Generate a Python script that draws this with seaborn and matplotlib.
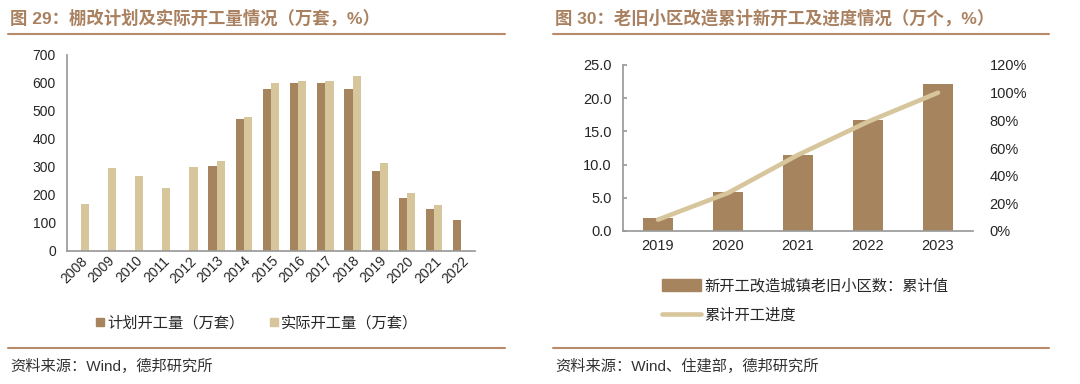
import matplotlib
matplotlib.use("Agg")
import matplotlib.pyplot as plt
from matplotlib.lines import Line2D
from matplotlib.patches import Patch
from matplotlib.ticker import FixedLocator, FuncFormatter
import numpy as np
import pandas as pd
import seaborn as sns

# chart 29: shantytown renovation, planned vs actual starts (10k units)
years = [str(y) for y in range(2008, 2023)]
planned = [np.nan, np.nan, np.nan, np.nan, np.nan, 304, 470, 580, 600, 600, 580, 285, 190, 150, 110]
actual = [168, 296, 268, 225, 299, 320, 480, 601, 606, 608, 626, 315, 208, 164, np.nan]
series_names = ["计划开工量（万套）", "实际开工量（万套）"]

# chart 30: old community renovation, cumulative starts and progress
years2 = ["2019", "2020", "2021", "2022", "2023"]
cum_starts = [1.9, 5.9, 11.5, 16.7, 22.1]
progress = [0.082, 0.275, 0.55, 0.79, 1.0]
bar_label = "新开工改造城镇老旧小区数：累计值"
line_label = "累计开工进度"

dark = "#a6845d"
light = "#d7c59c"
rule = "#b88b6b"
title_col = "#a98160"

sns.set_theme(style="white")
plt.rcParams["font.family"] = ["Liberation Sans", "Noto Sans CJK SC", "DejaVu Sans"]
plt.rcParams["axes.edgecolor"] = "#9a9a9a"

W, H = 1080, 384
fig = plt.figure(figsize=(W / 100, H / 100), dpi=100)


def box(x0, y0, x1, y1):
    return [x0 / W, 1 - y1 / H, (x1 - x0) / W, (y1 - y0) / H]


def hline(x0, x1, y):
    fig.add_artist(Line2D([x0 / W, x1 / W], [1 - y / H, 1 - y / H], color=rule, lw=1.5))


# titles, rules, sources
fig.text(10 / W, 1 - 18 / H, "图 29：棚改计划及实际开工量情况（万套，%）", fontsize=12.5,
         fontweight="bold", color=title_col, va="center")
fig.text(555 / W, 1 - 18 / H, "图 30：老旧小区改造累计新开工及进度情况（万个，%）", fontsize=12.5,
         fontweight="bold", color=title_col, va="center")
hline(8, 505, 34)
hline(553, 1049, 34)
hline(8, 505, 348)
hline(553, 1049, 348)
fig.text(10 / W, 1 - 366 / H, "资料来源：Wind，德邦研究所", fontsize=11, color="#333333", va="center")
fig.text(555 / W, 1 - 366 / H, "资料来源：Wind、住建部，德邦研究所", fontsize=11, color="#333333", va="center")

# ---- left chart
ax1 = fig.add_axes(box(67, 55, 475, 251))
df = pd.DataFrame({
    "year": years * 2,
    "value": planned + actual,
    "series": [series_names[0]] * len(years) + [series_names[1]] * len(years),
})
sns.barplot(data=df, x="year", y="value", hue="series", palette=[dark, light],
            width=0.6, gap=0, linewidth=0, saturation=1, ax=ax1, legend=False)
ax1.set_xlim(-0.5, len(years) - 0.5)
ax1.set_ylim(0, 700)
ax1.set_yticks(range(0, 701, 100))
ax1.set_xlabel("")
ax1.set_ylabel("")
for s in ["top", "right"]:
    ax1.spines[s].set_visible(False)
ax1.xaxis.set_minor_locator(FixedLocator(np.arange(-0.5, len(years), 1)))
ax1.tick_params(axis="x", which="major", length=0, labelsize=10, pad=2)
ax1.tick_params(axis="x", which="minor", direction="in", length=4, color="#9a9a9a")
ax1.tick_params(axis="y", direction="in", length=3, labelsize=10, color="#9a9a9a", pad=8)
for lab in ax1.get_xticklabels():
    lab.set_rotation(45)
    lab.set_ha("right")
    lab.set_va("top")
    lab.set_rotation_mode("anchor")

leg1_handles = [Line2D([], [], marker="s", ls="", color=dark, markersize=6),
                Line2D([], [], marker="s", ls="", color=light, markersize=6)]
fig.legend(leg1_handles, series_names, loc="center", bbox_to_anchor=(257 / W, 1 - 323 / H),
           ncol=2, frameon=False, fontsize=11, handlelength=0.6, handletextpad=0.2,
           columnspacing=1.6)

# ---- right chart
ax2 = fig.add_axes(box(623, 65, 973, 231))
sns.barplot(x=years2, y=cum_starts, color=dark, width=0.42, linewidth=0, saturation=1, ax=ax2)
ax2.set_xlim(-0.5, len(years2) - 0.5)
ax2.set_ylim(0, 25)
ax2.set_yticks(np.arange(0, 25.1, 5))
ax2.yaxis.set_major_formatter(FuncFormatter(lambda v, p: f"{v:.1f}"))
for s in ["top", "right"]:
    ax2.spines[s].set_visible(False)
ax2.xaxis.set_minor_locator(FixedLocator(np.arange(-0.5, len(years2), 1)))
ax2.tick_params(axis="x", which="major", length=0, labelsize=10.5, pad=6)
ax2.tick_params(axis="x", which="minor", direction="in", length=4, color="#9a9a9a")
ax2.tick_params(axis="y", direction="in", length=3, labelsize=10.5, color="#9a9a9a", pad=8)

ax3 = ax2.twinx()
sns.lineplot(x=list(range(len(years2))), y=progress, color=light, lw=3.3, ax=ax3,
             solid_capstyle="round")
ax3.set_ylim(0, 1.2)
ax3.set_yticks(np.arange(0, 1.21, 0.2))
ax3.yaxis.set_major_formatter(FuncFormatter(lambda v, p: f"{v * 100:.0f}%"))
for s in ["top", "right", "left", "bottom"]:
    ax3.spines[s].set_visible(False)
ax3.tick_params(axis="y", length=0, labelsize=10.5, pad=12)
ax3.set_ylabel("")

leg2_handles = [Patch(color=dark), Line2D([], [], color=light, lw=3.3)]
fig.legend(leg2_handles, [bar_label, line_label], loc="upper left",
           bbox_to_anchor=(648 / W, 1 - 265 / H), frameon=False, fontsize=11,
           handlelength=2.6, handleheight=0.8, handletextpad=0.2, labelspacing=1.0)

fig.savefig("out.png", dpi=100)
